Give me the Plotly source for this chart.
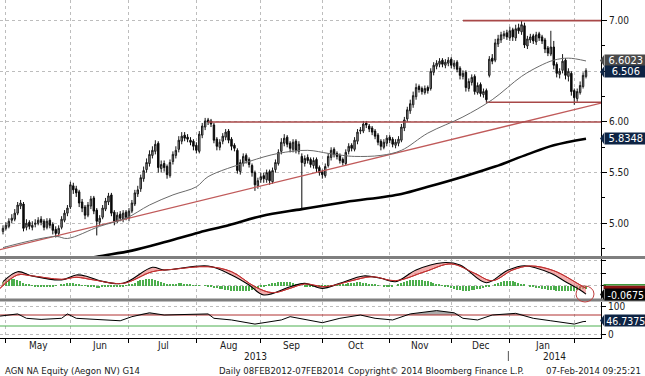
import numpy as np
import pandas as pd
import plotly.graph_objects as go

# ---------------- data ----------------
holidays = pd.to_datetime(["2013-05-01", "2013-12-25", "2013-12-26", "2014-01-01"])
days = pd.bdate_range("2013-04-30", "2014-02-07")
days = days[~days.isin(holidays)]
day_idx = np.arange(len(days))

opens = [4.92,4.95,4.97,5.03,5.04,5.10,5.17,5.19,4.96,5.01,
         4.96,4.99,5.00,5.04,5.02,4.96,5.03,4.99,4.94,4.90,
         4.96,5.03,5.10,5.16,5.37,5.34,5.31,5.21,5.16,5.08,
         5.17,5.25,5.13,5.01,5.06,5.14,5.21,5.28,5.11,5.02,
         5.09,5.04,5.11,5.05,5.12,5.19,5.29,5.34,5.44,5.53,
         5.59,5.67,5.71,5.79,5.54,5.59,5.56,5.47,5.61,5.67,
         5.73,5.81,5.87,5.85,5.82,5.81,5.77,5.71,5.87,5.95,
         6.02,6.01,5.97,5.83,5.75,5.81,5.85,5.91,5.83,5.77,
         5.72,5.51,5.59,5.67,5.63,5.57,5.50,5.37,5.43,5.47,
         5.43,5.51,5.41,5.53,5.59,5.71,5.79,5.85,5.79,5.73,
         5.81,5.71,5.66,5.59,5.65,5.63,5.57,5.63,5.55,5.51,
         5.47,5.57,5.65,5.73,5.69,5.67,5.63,5.59,5.71,5.77,
         5.73,5.81,5.91,5.91,5.99,5.96,5.94,5.91,5.87,5.81,
         5.75,5.79,5.85,5.83,5.77,5.79,5.82,5.94,6.03,6.11,
         6.17,6.25,6.35,6.33,6.29,6.34,6.33,6.49,6.55,6.57,
         6.61,6.56,6.58,6.62,6.55,6.59,6.53,6.45,6.49,6.33,
         6.39,6.45,6.29,6.37,6.27,6.31,6.46,6.63,6.61,6.77,
         6.81,6.85,6.88,6.83,6.91,6.83,6.93,6.89,6.95,6.75,
         6.81,6.85,6.79,6.87,6.84,6.81,6.73,6.67,6.74,6.57,
         6.47,6.51,6.61,6.45,6.48,6.31,6.23,6.29,6.35,6.45]
highs = [4.98,5.01,5.05,5.09,5.14,5.21,5.23,5.21,5.04,5.03,
         5.02,5.04,5.06,5.07,5.04,5.05,5.05,5.01,4.97,4.98,
         5.07,5.13,5.18,5.41,5.40,5.37,5.33,5.24,5.18,5.21,
         5.27,5.27,5.15,5.08,5.18,5.25,5.30,5.30,5.13,5.11,
         5.12,5.13,5.13,5.15,5.23,5.33,5.37,5.48,5.56,5.64,
         5.72,5.76,5.82,5.81,5.62,5.62,5.58,5.63,5.71,5.76,
         5.86,5.90,5.90,5.88,5.85,5.83,5.80,5.91,5.99,6.04,
         6.04,6.03,5.99,5.85,5.83,5.89,5.93,5.93,5.85,5.79,
         5.74,5.63,5.69,5.69,5.65,5.59,5.52,5.45,5.50,5.50,
         5.53,5.53,5.55,5.63,5.73,5.84,5.88,5.87,5.81,5.83,
         5.83,5.81,5.69,5.67,5.68,5.65,5.65,5.65,5.57,5.53,
         5.59,5.69,5.75,5.75,5.71,5.69,5.65,5.73,5.79,5.79,
         5.85,5.93,5.95,6.01,6.01,5.98,5.96,5.93,5.89,5.83,
         5.83,5.87,5.87,5.85,5.83,5.86,5.98,6.05,6.15,6.22,
         6.30,6.38,6.37,6.35,6.36,6.36,6.53,6.59,6.61,6.63,
         6.63,6.62,6.64,6.64,6.61,6.61,6.55,6.51,6.51,6.43,
         6.47,6.47,6.39,6.39,6.33,6.33,6.65,6.67,6.82,6.86,
         6.89,6.90,6.91,6.94,6.93,6.96,6.97,7.00,6.98,6.85,
         6.87,6.87,6.89,6.89,6.86,6.83,6.75,6.90,6.80,6.59,
         6.53,6.67,6.63,6.53,6.50,6.33,6.33,6.40,6.49,6.53]
lows = [4.89,4.93,4.95,5.00,5.02,5.08,5.14,4.92,4.93,4.94,
        4.93,4.96,4.98,4.98,4.93,4.94,4.95,4.89,4.86,4.87,
        4.94,5.01,5.07,5.14,5.29,5.26,5.16,5.11,5.04,5.06,
        5.14,5.09,4.88,4.98,5.04,5.12,5.18,5.07,4.98,5.00,
        5.02,5.01,5.03,5.02,5.10,5.17,5.26,5.31,5.41,5.50,
        5.56,5.64,5.68,5.50,5.50,5.51,5.44,5.45,5.58,5.64,
        5.70,5.78,5.81,5.80,5.77,5.72,5.69,5.69,5.84,5.92,
        5.97,5.95,5.79,5.72,5.72,5.78,5.82,5.79,5.72,5.71,
        5.49,5.48,5.56,5.59,5.55,5.46,5.32,5.34,5.40,5.40,
        5.40,5.38,5.39,5.50,5.57,5.68,5.76,5.75,5.70,5.70,
        5.69,5.68,5.13,5.56,5.59,5.55,5.54,5.50,5.47,5.44,
        5.45,5.55,5.62,5.65,5.63,5.59,5.57,5.57,5.68,5.71,
        5.71,5.78,5.88,5.89,5.94,5.90,5.87,5.83,5.77,5.72,
        5.73,5.76,5.79,5.75,5.74,5.76,5.80,5.91,6.00,6.08,
        6.14,6.22,6.29,6.27,6.27,6.28,6.31,6.46,6.52,6.54,
        6.54,6.53,6.55,6.53,6.52,6.49,6.42,6.42,6.30,6.30,
        6.36,6.27,6.27,6.25,6.24,6.19,6.44,6.57,6.59,6.74,
        6.78,6.82,6.81,6.80,6.80,6.80,6.87,6.86,6.73,6.72,
        6.78,6.77,6.76,6.80,6.77,6.68,6.65,6.65,6.52,6.44,
        6.43,6.48,6.42,6.40,6.26,6.17,6.20,6.27,6.33,6.43]
closes = [4.95,4.98,5.02,5.05,5.10,5.18,5.20,4.95,5.00,4.97,
          4.98,5.00,5.03,5.01,4.96,5.02,4.98,4.93,4.90,4.95,
          5.04,5.10,5.15,5.38,5.33,5.30,5.20,5.15,5.08,5.18,
          5.24,5.12,5.02,5.05,5.15,5.22,5.27,5.10,5.02,5.08,
          5.05,5.10,5.06,5.12,5.20,5.30,5.33,5.45,5.52,5.60,
          5.68,5.72,5.78,5.55,5.58,5.55,5.48,5.60,5.68,5.72,
          5.82,5.86,5.84,5.83,5.80,5.76,5.72,5.88,5.96,6.01,
          6.00,5.98,5.82,5.76,5.80,5.86,5.90,5.82,5.76,5.74,
          5.52,5.60,5.66,5.62,5.58,5.50,5.38,5.42,5.46,5.44,
          5.50,5.42,5.52,5.60,5.70,5.80,5.84,5.78,5.74,5.80,
          5.72,5.78,5.60,5.64,5.62,5.58,5.62,5.54,5.50,5.48,
          5.56,5.66,5.72,5.68,5.66,5.62,5.60,5.70,5.76,5.74,
          5.82,5.90,5.92,5.98,5.97,5.93,5.90,5.86,5.80,5.76,
          5.80,5.84,5.82,5.78,5.80,5.83,5.95,6.02,6.12,6.18,
          6.26,6.34,6.32,6.30,6.33,6.31,6.50,6.56,6.58,6.60,
          6.57,6.59,6.61,6.56,6.58,6.52,6.46,6.48,6.34,6.40,
          6.44,6.30,6.36,6.28,6.30,6.22,6.62,6.60,6.78,6.82,
          6.86,6.87,6.84,6.90,6.84,6.92,6.90,6.96,6.76,6.82,
          6.84,6.80,6.86,6.83,6.80,6.72,6.68,6.74,6.56,6.48,
          6.50,6.60,6.46,6.50,6.30,6.24,6.30,6.36,6.46,6.506]

# 50-day moving average (read at selected trading days)
ma50_day = [0, 18, 22, 33, 42, 50, 58, 66, 70, 84, 94, 104, 111, 116, 120, 129, 136, 145, 157, 167, 177, 183, 188, 193, 199]
ma50_val = [4.76, 4.87, 4.85, 4.97, 5.05, 5.18, 5.28, 5.36, 5.46, 5.61, 5.69, 5.72, 5.69, 5.67, 5.66, 5.67, 5.72, 5.89, 6.05, 6.22, 6.45, 6.55, 6.61, 6.63, 6.6023]
# 200-day moving average
ma200_day = [-1, 20, 32, 44, 56, 67, 77, 88, 102, 117, 136, 145, 157, 168, 179, 188, 199]
ma200_val = [4.52, 4.60, 4.67, 4.73, 4.82, 4.91, 4.98, 5.07, 5.14, 5.21, 5.29, 5.36, 5.46, 5.56, 5.68, 5.77, 5.8348]

# analyst lines
trend_day = [-1.03, 204.2]
trend_val = [4.74, 6.187]
level_start = [70, 157, 165]
level_val = [6.00, 7.00, 6.195]

# MACD panel
macd_day = [0, 5, 10, 20, 25, 29, 33, 41, 51, 55, 70, 78, 84, 89, 98, 103, 109, 115, 123, 129, 134, 141, 150, 156, 165, 172, 178, 187, 192, 197, 199]
macd_val = [0.032, 0.112, 0.078, 0.046, 0.086, 0.072, 0.040, 0.019, 0.147, 0.126, 0.158, 0.086, 0.006, -0.074, -0.008, 0.019, -0.021, 0.019, 0.078, 0.059, 0.032, 0.126, 0.184, 0.166, 0.024, 0.120, 0.160, 0.099, 0.032, -0.034, -0.0675]
sig_day = [-1, 5, 10, 20, 25, 31, 41, 51, 58, 70, 78, 86, 92, 98, 103, 110, 119, 126, 134, 144, 153, 161, 167, 174, 180, 188, 197, 199]
sig_val = [-0.021, 0.086, 0.078, 0.051, 0.067, 0.046, 0.019, 0.112, 0.131, 0.152, 0.112, -0.008, -0.056, -0.021, 0.014, -0.008, 0.040, 0.072, 0.040, 0.112, 0.174, 0.099, 0.040, 0.126, 0.158, 0.120, 0.006, -0.021]
macd_hist = [0.03,0.045,0.052,0.055,0.05,0.045,0.035,0.025,0.015,0.008,0.002,
             -0.004,-0.006,-0.008,-0.008,-0.006,-0.006,-0.004,-0.002,0.0,
             0.006,0.012,0.018,0.022,0.02,0.016,0.01,0.004,
             -0.002,-0.006,-0.01,-0.014,-0.016,-0.016,-0.014,-0.012,-0.012,-0.01,-0.01,-0.008,-0.006,-0.004,-0.002,
             0.006,0.014,0.024,0.034,0.042,0.048,0.052,0.054,0.05,0.044,0.036,0.028,0.02,
             0.016,0.014,0.014,0.016,0.018,0.018,0.016,0.012,0.008,
             0.004,0.002,0.002,0.0,-0.002,
             -0.006,-0.01,-0.016,-0.022,-0.026,-0.03,-0.034,-0.036,-0.04,-0.042,-0.044,-0.045,-0.045,-0.044,-0.04,-0.034,-0.026,-0.018,-0.01,-0.004,
             0.004,0.012,0.018,0.024,0.028,0.03,0.032,0.03,0.026,0.02,0.012,0.006,
             0.0,-0.004,-0.006,-0.008,-0.008,-0.01,-0.012,-0.012,-0.01,-0.006,
             -0.004,-0.002,0.002,0.006,0.01,0.014,
             0.018,0.022,0.024,0.026,0.026,0.024,0.02,0.016,0.012,0.008,0.004,0.0,
             -0.004,-0.006,-0.006,-0.004,0.0,
             0.008,0.018,0.028,0.036,0.042,0.046,0.048,0.046,0.044,0.04,0.034,0.028,0.022,0.016,0.01,0.004,
             -0.004,-0.012,-0.02,-0.028,-0.034,-0.038,-0.04,-0.042,-0.04,-0.038,-0.034,-0.03,-0.024,-0.018,-0.012,-0.006,0.0,
             0.01,0.022,0.032,0.038,0.04,0.038,0.034,0.028,0.02,0.012,0.006,0.0,
             -0.006,-0.012,-0.018,-0.022,-0.026,-0.03,-0.032,-0.036,-0.038,-0.04,-0.042,-0.044,-0.045,-0.044,-0.042,-0.04,-0.036,-0.032,-0.03,-0.028]

# RSI panel
rsi_day = [-1, 5, 8, 13, 20, 22, 25, 33, 40, 44, 50, 55, 70, 72, 78, 86, 95, 98, 103, 109, 115, 122, 127, 133, 139, 148, 154, 157, 162, 167, 175, 181, 187, 192, 195, 198, 199]
rsi_val = [66, 74, 58, 54, 58, 74, 58, 52, 49, 64, 78, 70, 74, 58, 52, 37, 52, 64, 55, 42, 58, 70, 58, 52, 74, 86, 78, 58, 52, 70, 76, 58, 49, 40, 37, 46, 46.7375]
rsi_levels = [70, 30]

month_names = ["May", "Jun", "Jul", "Aug", "Sep", "Oct", "Nov", "Dec", "Jan"]
price_ticks = [5.0, 5.5, 6.0, 6.5, 7.0]
price_ticktext = ["5.00", "5.50", "6.00", "", "7.00"]

last_labels = [("6.6023", "#4a4a4a", 60.5, 11), ("6.506", "#0e2444", 72, 11), ("5.8348", "#0e2444", 138.5, 11),
               ("-0.0675", "#050505", 294.5, 10.5), ("46.7375", "#0e2444", 320.5, 10.5)]

# ---------------- geometry helpers ----------------
PW, PH = 601.0, 338.0
def PX(x):
    return x / PW
def PY(y):
    return (PH - y) / PH

XR = [-1.024, 204.12]
month_starts = [i for i in range(1, len(days)) if days[i].month != days[i - 1].month]
FONT = "Liberation Sans Narrow, DejaVu Sans Condensed, Liberation Sans, Arial, sans-serif"

fig = go.Figure()

# main panel
fig.add_trace(go.Scatter(x=trend_day, y=trend_val, mode="lines", line=dict(color="#c05a5a", width=1.3),
                         xaxis="x", yaxis="y", hoverinfo="skip"))
for s, v in zip(level_start, level_val):
    fig.add_trace(go.Scatter(x=[s, XR[1]], y=[v, v], mode="lines", line=dict(color="#a84848", width=1.6),
                             xaxis="x", yaxis="y", hoverinfo="skip"))
fig.add_trace(go.Scatter(x=ma200_day, y=ma200_val, mode="lines", line=dict(color="#000000", width=2.6, shape="spline"),
                         xaxis="x", yaxis="y"))
fig.add_trace(go.Scatter(x=ma50_day, y=ma50_val, mode="lines", line=dict(color="#6a6a6a", width=1, shape="spline"),
                         xaxis="x", yaxis="y"))
fig.add_trace(go.Candlestick(x=day_idx, open=opens, high=highs, low=lows, close=closes,
                             increasing=dict(line=dict(color="#1a1a1a", width=1), fillcolor="#a0a0a0"),
                             decreasing=dict(line=dict(color="#0a0a0a", width=1), fillcolor="#0a0a0a"),
                             whiskerwidth=0, xaxis="x", yaxis="y"))

# MACD panel
fig.add_trace(go.Bar(x=day_idx, y=macd_hist, marker=dict(color="#4cae4c", line=dict(width=0)), width=0.5,
                     xaxis="x2", yaxis="y2"))
fig.add_trace(go.Scatter(x=sig_day, y=sig_val, mode="lines", line=dict(color="#c03030", width=1, shape="spline"),
                         xaxis="x2", yaxis="y2"))
fig.add_trace(go.Scatter(x=macd_day, y=macd_val, mode="lines", line=dict(color="#000000", width=1.1, shape="spline"),
                         fill="tonexty", fillcolor="rgba(236,130,130,0.65)", xaxis="x2", yaxis="y2"))
fig.add_trace(go.Scatter(x=sig_day, y=sig_val, mode="lines", line=dict(color="#c03030", width=1, shape="spline"),
                         xaxis="x2", yaxis="y2"))

# RSI panel
fig.add_trace(go.Scatter(x=[XR[0], XR[1]], y=[rsi_levels[0]] * 2, mode="lines", line=dict(color="#b03030", width=1),
                         xaxis="x3", yaxis="y3"))
fig.add_trace(go.Scatter(x=rsi_day, y=np.maximum(np.array(rsi_val), rsi_levels[0]), mode="lines",
                         line=dict(width=0), fill="tonexty", fillcolor="rgba(150,150,150,0.8)",
                         xaxis="x3", yaxis="y3"))
fig.add_trace(go.Scatter(x=[XR[0], XR[1]], y=[rsi_levels[1]] * 2, mode="lines", line=dict(color="#4caf50", width=1),
                         xaxis="x3", yaxis="y3"))
fig.add_trace(go.Scatter(x=rsi_day, y=rsi_val, mode="lines", line=dict(color="#000000", width=1),
                         xaxis="x3", yaxis="y3"))

grid = dict(showgrid=True, gridcolor="#bdbdbd", griddash="dot", gridwidth=1)
xcommon = dict(range=XR, tickmode="array", tickvals=month_starts, showticklabels=False, zeroline=False, **grid)

fig.update_layout(
    width=645, height=376, margin=dict(l=0, r=44, t=0, b=38, autoexpand=False),
    paper_bgcolor="white", plot_bgcolor="white", showlegend=False,
    font=dict(family=FONT, size=10, color="#1a1a1a"),
    xaxis=dict(anchor="y", rangeslider=dict(visible=False), ticks="", **xcommon),
    xaxis2=dict(anchor="y2", matches="x", ticks="", **xcommon),
    xaxis3=dict(anchor="y3", matches="x", ticks="outside", ticklen=4, tickcolor="#000",
                showline=True, linecolor="#000", linewidth=1, **xcommon),
    yaxis=dict(domain=[PY(256), 1], range=[4.677, 7.204], side="right", tickmode="array",
               tickvals=price_ticks, ticktext=price_ticktext, ticks="outside", ticklen=5, tickcolor="#000",
               showline=True, linecolor="#000", linewidth=1, zeroline=False,
               minor=dict(tickmode="linear", tick0=0, dtick=0.25, ticks="outside", ticklen=3, tickcolor="#000", showgrid=False),
               tickfont=dict(size=10), **grid),
    yaxis2=dict(domain=[PY(298.5), PY(259)], range=[-0.1024, 0.2136], side="right", tickmode="array",
                tickvals=[0, 0.1, 0.2], ticktext=["", "", ""], ticks="outside", ticklen=4, tickcolor="#000",
                showline=True, linecolor="#000", linewidth=1, zeroline=False, **grid),
    yaxis3=dict(domain=[0, PY(301.5)], range=[-13.6, 119.1], side="right", tickmode="array",
                tickvals=[0, 100], ticktext=["0", "100"], ticks="outside", ticklen=4, tickcolor="#000",
                showline=True, linecolor="#000", linewidth=1, zeroline=False, tickfont=dict(size=10), **grid),
    bargap=0,
)

shapes = []
# panel separators
for y0, y1 in [(256, 259), (298.5, 301.5)]:
    shapes.append(dict(type="rect", xref="paper", yref="paper", x0=PX(0), x1=PX(645), y0=PY(y1), y1=PY(y0),
                       fillcolor="#7f7f7f", line=dict(width=0), layer="above"))
# hand-drawn circle at MACD end
shapes.append(dict(type="circle", xref="paper", yref="paper", x0=PX(576), x1=PX(594), y0=PY(302), y1=PY(286),
                   line=dict(color="#c04040", width=1), layer="above"))
# label boxes with pointed tips
annotations = []
for text, col, yc, fs in last_labels:
    h = 5.5
    shapes.append(dict(type="path", xref="paper", yref="paper",
                       path=f"M {PX(604)},{PY(yc - h)} L {PX(600)},{PY(yc)} L {PX(604)},{PY(yc + h)} Z",
                       fillcolor=col, line=dict(width=0), layer="above"))
    annotations.append(dict(xref="paper", yref="paper", x=PX(603.5), y=PY(yc), xanchor="left", yanchor="middle",
                            text=text, showarrow=False, bgcolor=col, width=41, height=10.5, borderpad=0.3,
                            align="center", font=dict(color="white", size=fs)))
# MACD label coloured header
shapes.append(dict(type="rect", xref="paper", yref="paper", x0=PX(603.5), x1=PX(645), y0=PY(289), y1=PY(285.5),
                   fillcolor="#8a1414", line=dict(width=0), layer="above"))
shapes.append(dict(type="rect", xref="paper", yref="paper", x0=PX(603.5), x1=PX(645), y0=PY(285.5), y1=PY(284),
                   fillcolor="#3d9a3d", line=dict(width=0), layer="above"))

# month labels (mid-month)
bounds = month_starts
for i, name in enumerate(month_names):
    mid = (bounds[i] + bounds[i + 1]) / 2.0
    annotations.append(dict(xref="x3", yref="paper", x=mid, y=PY(345.5), text=name, showarrow=False,
                            xanchor="center", yanchor="middle", font=dict(size=10)))
year_break = bounds[8] - 0.5
annotations.append(dict(xref="x3", yref="paper", x=(0 + year_break) / 2, y=PY(356), text="2013", showarrow=False,
                        xanchor="center", yanchor="middle", font=dict(size=10)))
annotations.append(dict(xref="x3", yref="paper", x=(year_break + XR[1]) / 2, y=PY(356), text="2014", showarrow=False,
                        xanchor="center", yanchor="middle", font=dict(size=10)))
shapes.append(dict(type="line", xref="x3", yref="paper", x0=year_break, x1=year_break, y0=PY(351), y1=PY(361),
                   line=dict(color="#555", width=1)))

footer = [("AGN NA Equity (Aegon NV) G14", 3, "left"),
          ("Daily 08FEB2012-07FEB2014", 217, "left"),
          ("Copyright\u00a9 2014 Bloomberg Finance L.P.", 346, "left"),
          ("07-Feb-2014 09:25:21", 643, "right")]
for text, x, anchor in footer:
    annotations.append(dict(xref="paper", yref="paper", x=PX(x), y=PY(370), text=text, showarrow=False,
                            xanchor=anchor, yanchor="middle", font=dict(size=9.5)))

fig.update_layout(shapes=shapes, annotations=annotations)
fig.write_html("out.html", config={"displayModeBar": False},
               post_script="document.body.style.margin='0';document.body.style.overflow='hidden';")
